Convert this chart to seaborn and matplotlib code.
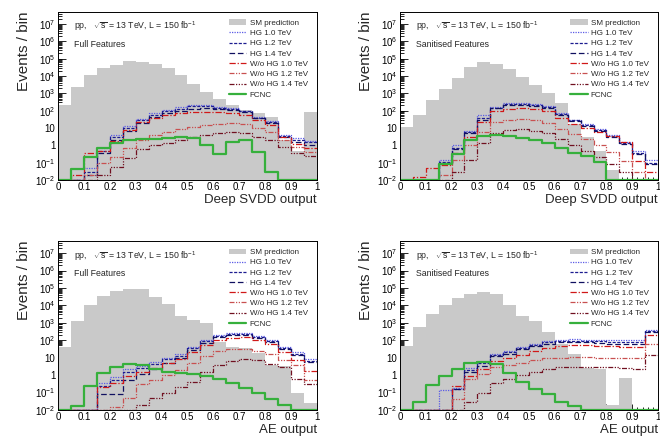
import numpy as np
import pandas as pd
import matplotlib.pyplot as plt
import seaborn as sns
from matplotlib.ticker import LogLocator, MultipleLocator, FuncFormatter, NullFormatter
from matplotlib.patches import Patch
from matplotlib.lines import Line2D

sns.set_style("ticks")
plt.rcParams['font.family'] = ['Liberation Sans', 'DejaVu Sans']
plt.rcParams['mathtext.fontset'] = 'custom'
plt.rcParams['mathtext.rm'] = 'Liberation Sans'
plt.rcParams['mathtext.it'] = 'Liberation Sans:italic'

# 20 bins of width 0.05 on the discriminant output
edges = [round(0.05 * i, 2) for i in range(21)]
centers = [e + 0.025 for e in edges[:-1]]

labels = ["SM prediction", "HG 1.0 TeV", "HG 1.2 TeV", "HG 1.4 TeV",
          "W/o HG 1.0 TeV", "W/o HG 1.2 TeV", "W/o HG 1.4 TeV", "FCNC"]

# Deep SVDD, full features
sm_svdd_full = [200, 2400, 1.1e4, 2.7e4, 4.3e4, 7e4, 6.7e4, 5e4, 2.8e4, 1.1e4, 3500, 1200, 450, 200, 110, 70, 45, 2, 0.5, 80]
hg10_svdd_full = [0.01, 0.01, 0.05, 0.7, 4, 13, 35, 70, 110, 155, 210, 210, 170, 140, 100, 45, 25, 4, 2.5, 1.8]
hg12_svdd_full = [0.01, 0.01, 0.03, 0.5, 3, 10, 28, 60, 95, 130, 180, 180, 150, 125, 90, 40, 22, 3.5, 2, 1.5]
hg14_svdd_full = [0.01, 0.01, 0.02, 0.35, 2, 7, 20, 45, 75, 100, 130, 135, 125, 110, 80, 38, 20, 3, 1.6, 1.1]
wo10_svdd_full = [0.01, 0.02, 0.35, 0.5, 1.8, 8, 22, 40, 55, 70, 80, 85, 80, 72, 55, 28, 15, 3, 1.2, 0.7]
wo12_svdd_full = [0.01, 0.01, 0.02, 0.09, 0.22, 0.7, 2, 4, 6, 9, 12, 15, 18, 20, 17, 10, 6, 2, 0.8, 0.4]
wo14_svdd_full = [0.01, 0.01, 0.01, 0.02, 0.06, 0.18, 0.6, 1, 1.4, 2, 3, 4, 5, 6, 5, 3, 2, 0.8, 0.35, 0.25]
fcnc_svdd_full = [0.01, 0.045, 0.22, 0.75, 1.4, 2, 2.3, 2.4, 2.7, 2.9, 2.7, 1.0, 0.3, 1.6, 2.0, 0.4, 0.03, 0.01, 0.01, 0.01]

# Deep SVDD, sanitised features
sm_svdd_san = [11, 60, 400, 1800, 8000, 3.5e4, 6.5e4, 5e4, 2.6e4, 9000, 3000, 1000, 260, 18, 3, 0.5, 0.04, 0, 0, 0]
hg10_svdd_san = [0.01, 0.01, 0.01, 0.14, 1, 7, 55, 170, 290, 280, 250, 185, 70, 30, 16, 9, 4, 1.6, 0.45, 0.14]
hg12_svdd_san = [0.01, 0.01, 0.01, 0.11, 0.75, 6, 40, 150, 230, 240, 210, 160, 65, 28, 14, 8, 3.5, 1.4, 0.35, 0.1]
hg14_svdd_san = [0.01, 0.01, 0.01, 0.1, 0.6, 5, 30, 140, 200, 210, 190, 150, 60, 27, 13, 7, 3, 1.2, 0.3, 0.08]
wo10_svdd_san = [0.01, 0.015, 0.05, 0.07, 0.35, 3, 23, 90, 130, 140, 120, 90, 40, 18, 10, 6, 3.5, 1.5, 0.12, 0.03]
wo12_svdd_san = [0.01, 0.01, 0.01, 0.02, 0.14, 1, 6, 23, 30, 32, 28, 20, 9, 4.5, 2.2, 1, 0.4, 0.12, 0.03, 0.01]
wo14_svdd_san = [0.01, 0.01, 0.01, 0.01, 0.03, 0.14, 1.3, 5, 8, 8.5, 7, 5, 2.2, 1.1, 0.5, 0.2, 0.08, 0.03, 0.01, 0.01]
fcnc_svdd_san = [0.01, 0.01, 0.01, 0.08, 0.3, 2, 3.5, 4, 3.5, 2.8, 2, 1.3, 0.7, 0.38, 0.24, 0.11, 0.01, 0.01, 0.01, 0.01]

# AE, full features
sm_ae_full = [40, 1300, 1e4, 3.4e4, 6.7e4, 8.5e4, 8.5e4, 2.9e4, 1.2e4, 2500, 1500, 1000, 80, 40, 35, 18, 4, 3.5, 0.1, 0.025]
hg10_ae_full = [0.01, 0.01, 0.01, 0.36, 0.73, 2.2, 3.4, 5.5, 10, 16, 40, 100, 200, 270, 270, 170, 100, 40, 20, 8]
hg12_ae_full = [0.01, 0.01, 0.01, 0.25, 0.5, 1.6, 2.6, 4.5, 8, 13, 34, 85, 175, 240, 240, 150, 90, 35, 17, 6.5]
hg14_ae_full = [0.01, 0.01, 0.01, 0.08, 0.08, 0.5, 1.2, 2.2, 5, 9, 28, 70, 150, 210, 210, 130, 80, 30, 15, 5.5]
wo10_ae_full = [0.01, 0.01, 0.01, 0.2, 0.35, 0.9, 1.5, 2.5, 5, 8, 22, 50, 100, 140, 150, 110, 60, 20, 7, 1.8]
wo12_ae_full = [0.01, 0.01, 0.01, 0.01, 0.015, 0.05, 0.3, 0.5, 1, 2, 5, 13, 25, 30, 30, 25, 16, 7, 4, 0.5]
wo14_ae_full = [0.01, 0.01, 0.01, 0.01, 0.01, 0.01, 0.02, 0.05, 0.1, 0.2, 0.4, 1.5, 4, 6.7, 8, 7, 4.3, 2.8, 0.6, 0.3]
fcnc_ae_full = [0.01, 0.017, 0.24, 1.25, 3, 4.3, 4, 2.3, 1.6, 1.3, 1.15, 0.85, 0.6, 0.37, 0.19, 0.09, 0.04, 0.02, 0.01, 0.01]

# AE, sanitised features
sm_ae_san = [45, 560, 3200, 1.1e4, 2.6e4, 4.7e4, 5.8e4, 4.7e4, 1e4, 2500, 1200, 300, 60, 16, 2.7, 2.2, 0.02, 0.7, 0, 0]
hg10_ae_san = [0.01, 0.01, 0.01, 0.14, 0.19, 2.5, 6, 16, 25, 40, 60, 90, 110, 115, 110, 105, 100, 100, 100, 400]
hg12_ae_san = [0.01, 0.01, 0.01, 0.01, 0.17, 2, 5, 15, 22, 35, 50, 75, 90, 95, 90, 85, 80, 80, 80, 330]
hg14_ae_san = [0.01, 0.01, 0.01, 0.01, 0.15, 1.6, 3.5, 13, 16, 30, 45, 65, 75, 80, 75, 70, 65, 65, 65, 290]
wo10_ae_san = [0.01, 0.01, 0.01, 0.01, 0.25, 0.9, 2.2, 6.5, 9, 15, 25, 35, 45, 50, 50, 48, 45, 42, 40, 190]
wo12_ae_san = [0.01, 0.01, 0.01, 0.01, 0.04, 0.6, 1.1, 2.8, 3.8, 5, 7, 9, 10, 11, 11, 10, 10, 9.5, 9, 60]
wo14_ae_san = [0.01, 0.01, 0.01, 0.01, 0.01, 0.03, 0.1, 0.35, 0.6, 1, 1.5, 2.2, 3, 3, 3, 3, 2.8, 2.5, 2.2, 15]
fcnc_ae_san = [0.01, 0.03, 0.26, 0.84, 2.2, 5, 5.9, 4.1, 1.3, 0.38, 0.16, 0.08, 0.03, 0.017, 0.01, 0.01, 0.01, 0.01, 0.01, 0.01]

sm_color = "#c9c9c9"
# colour, linestyle, linewidth for each signal curve
styles = [
    ("#5a5ae6", (0, (1, 1)), 0.9),
    ("#1c1c90", (0, (2.5, 1.2)), 0.9),
    ("#101060", (0, (4.5, 2.2)), 0.9),
    ("#d01818", (0, (5, 1.5, 1, 1.5)), 0.9),
    ("#c85050", (0, (4, 1.2, 1, 1.2, 1, 1.2)), 0.9),
    ("#701020", (0, (4, 1.2, 1, 1.2, 1, 1.2, 1, 1.2)), 0.9),
    ("#36b03c", "-", 1.6),
]

panels = [
    ([0.088, 0.589, 0.392, 0.384], "Full Features", "Deep SVDD output",
     [sm_svdd_full, hg10_svdd_full, hg12_svdd_full, hg14_svdd_full,
      wo10_svdd_full, wo12_svdd_full, wo14_svdd_full, fcnc_svdd_full]),
    ([0.606, 0.589, 0.391, 0.384], "Sanitised Features", "Deep SVDD output",
     [sm_svdd_san, hg10_svdd_san, hg12_svdd_san, hg14_svdd_san,
      wo10_svdd_san, wo12_svdd_san, wo14_svdd_san, fcnc_svdd_san]),
    ([0.088, 0.064, 0.392, 0.386], "Full Features", "AE output",
     [sm_ae_full, hg10_ae_full, hg12_ae_full, hg14_ae_full,
      wo10_ae_full, wo12_ae_full, wo14_ae_full, fcnc_ae_full]),
    ([0.606, 0.064, 0.391, 0.386], "Sanitised Features", "AE output",
     [sm_ae_san, hg10_ae_san, hg12_ae_san, hg14_ae_san,
      wo10_ae_san, wo12_ae_san, wo14_ae_san, fcnc_ae_san]),
]


def log_label(v, pos):
    e = int(round(np.log10(v)))
    if e == 0:
        return "1"
    if e == 1:
        return "10"
    return r"$10^{%d}$" % e


fig = plt.figure(figsize=(6.6, 4.38), dpi=100)

for rect, feat, xlab, series in panels:
    ax = fig.add_axes(rect)
    df = pd.DataFrame({"x": centers, "w": series[0]})
    sns.histplot(data=df, x="x", weights="w", bins=edges, element="step",
                 fill=True, color=sm_color, alpha=1, linewidth=0, ax=ax)
    for vals, (col, ls, lw) in zip(series[1:], styles):
        df = pd.DataFrame({"x": centers, "w": vals})
        sns.histplot(data=df, x="x", weights="w", bins=edges, element="step",
                     fill=False, color=col, linestyle=ls, linewidth=lw, ax=ax)

    ax.set_yscale("log")
    ax.set_xlim(0, 1)
    ax.set_ylim(1e-2, 5e7)
    ax.yaxis.set_major_locator(LogLocator(base=10, numticks=20))
    ax.yaxis.set_minor_locator(LogLocator(base=10, subs=np.arange(2, 10), numticks=100))
    ax.yaxis.set_major_formatter(FuncFormatter(log_label))
    ax.yaxis.set_minor_formatter(NullFormatter())
    ax.xaxis.set_major_locator(MultipleLocator(0.1))
    ax.xaxis.set_minor_locator(MultipleLocator(0.02))
    ax.xaxis.set_major_formatter(FuncFormatter(lambda v, p: "%g" % round(v, 1)))
    ax.tick_params(axis="both", which="both", direction="in", labelsize=7,
                   width=0.6, pad=2, colors="black")
    ax.tick_params(axis="x", which="major", length=4, pad=1.5)
    ax.tick_params(axis="x", which="minor", length=2)
    ax.tick_params(axis="y", which="major", length=6)
    ax.tick_params(axis="y", which="minor", length=3)
    for s in ax.spines.values():
        s.set_linewidth(0.7)
        s.set_color("black")

    ax.set_xlabel(xlab, fontsize=9.5, loc="right", labelpad=1.5)
    ax.set_ylabel("Events / bin", fontsize=11, loc="top", labelpad=3)

    ax.text(0.062, 0.912, r"pp,   $\sqrt{\mathrm{s}}$ = 13 TeV, L = 150 fb$^{-1}$",
            transform=ax.transAxes, fontsize=6.3, va="center")
    ax.text(0.062, 0.807, feat, transform=ax.transAxes, fontsize=6.3, va="center")

    handles = [Patch(facecolor=sm_color, edgecolor="none")]
    handles += [Line2D([], [], color=c, linestyle=ls, linewidth=lw) for c, ls, lw in styles]
    ax.legend(handles, labels, loc="upper right", bbox_to_anchor=(0.965, 0.955),
              frameon=False, fontsize=5.8, handlelength=2.2, handletextpad=0.4,
              labelspacing=0.32, borderpad=0, borderaxespad=0)

fig.savefig("out.png", dpi=100)
